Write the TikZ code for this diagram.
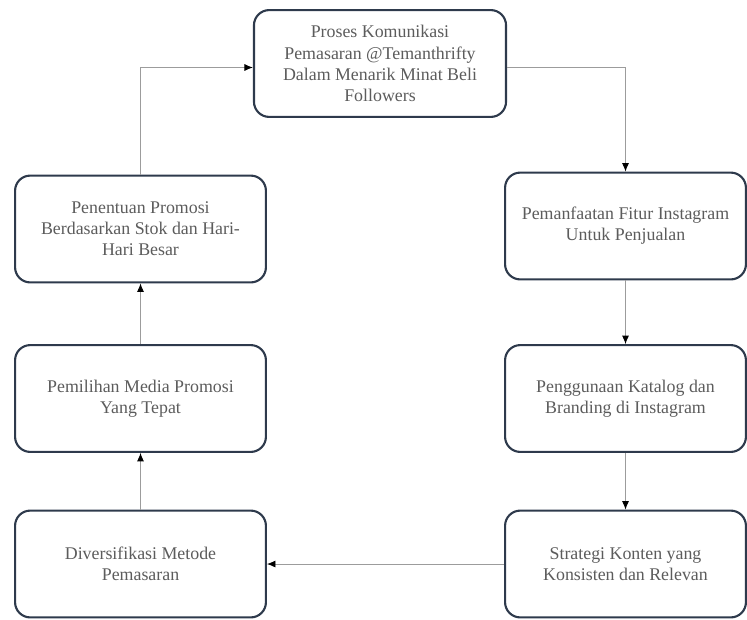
\documentclass[tikz,border=0pt]{standalone}
\usepackage{fontspec}
\setmainfont{Liberation Serif}
\usetikzlibrary{arrows.meta}
\definecolor{garisbox}{HTML}{2E3A4C}
\definecolor{teksabu}{HTML}{5C5C5C}
\definecolor{alurabu}{HTML}{9C9C9C}
\begin{document}
\begin{tikzpicture}[x=0.025cm,y=-0.025cm,
	langkah/.style={draw=garisbox,line width=1.5pt,rounded corners=0.38cm,minimum height=2.67cm,align=center,text=teksabu,font=\fontsize{12.7}{15}\selectfont},
	kiri/.style={langkah,minimum width=6.27cm},
	kanan/.style={langkah,minimum width=6.02cm},
	alur/.style={draw=alurabu,line width=0.6pt,-{Latex[length=6pt,width=5pt,color=black]}}]
	\useasboundingbox (0,0) rectangle (747,619);
	% proses utama
	\node[langkah,minimum width=6.3cm] (proses) at (380,63.5) {Proses Komunikasi\\Pemasaran @Temanthrifty\\Dalam Menarik Minat Beli\\Followers};
	% kolom kiri
	\node[kiri] (penentuan) at (140.5,229) {Penentuan Promosi\\Berdasarkan Stok dan Hari-\\Hari Besar};
	\node[kiri] (pemilihan) at (140.5,398.5) {Pemilihan Media Promosi\\Yang Tepat};
	\node[kiri] (diversifikasi) at (140.5,564) {Diversifikasi Metode\\Pemasaran};
	% kolom kanan
	\node[kanan] (pemanfaatan) at (625.5,226) {Pemanfaatan Fitur Instagram\\Untuk Penjualan};
	\node[kanan] (penggunaan) at (625.5,398.5) {Penggunaan Katalog dan\\Branding di Instagram};
	\node[kanan] (strategi) at (625.5,564) {Strategi Konten yang\\Konsisten dan Relevan};
	% alur
	\draw[alur] ([yshift=-0.1cm]proses.east) -| (pemanfaatan.north);
	\draw[alur] (pemanfaatan) -- (penggunaan);
	\draw[alur] (penggunaan) -- (strategi);
	\draw[alur] (strategi) -- (diversifikasi);
	\draw[alur] (diversifikasi) -- (pemilihan);
	\draw[alur] (pemilihan) -- (penentuan);
	\draw[alur] (penentuan.north) |- ([yshift=-0.1cm]proses.west);
\end{tikzpicture}
\end{document}
